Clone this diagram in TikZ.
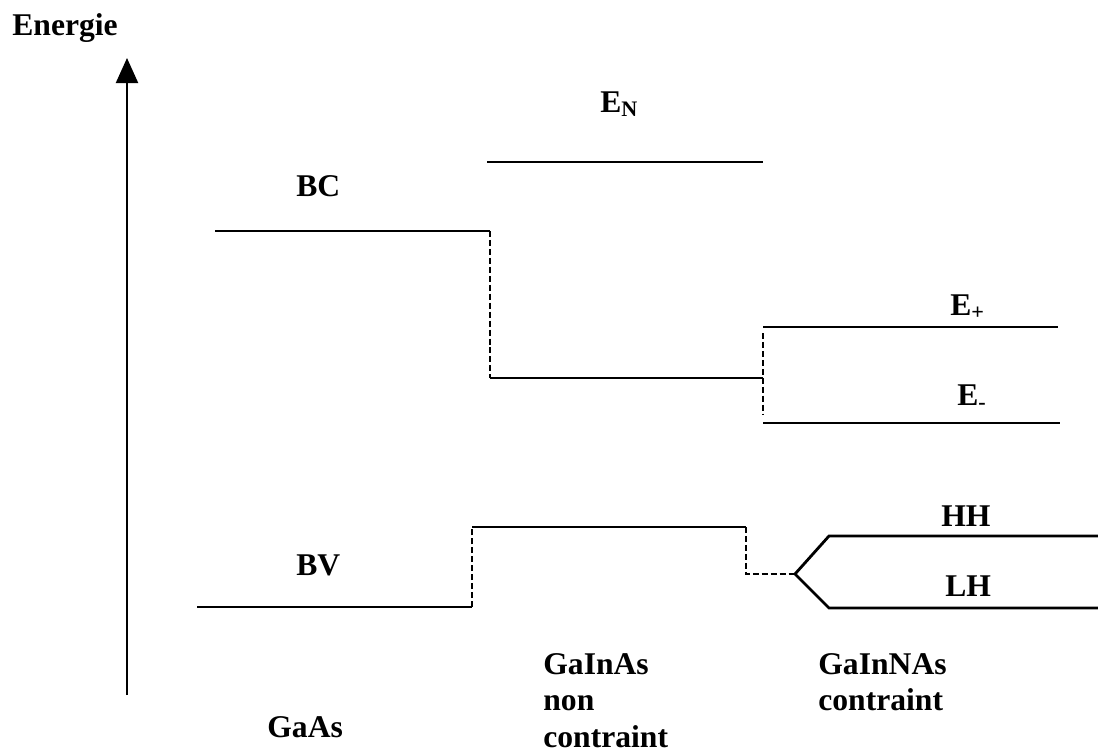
\documentclass[tikz,border=0pt]{standalone}
\usepackage{fontspec}
\setmainfont{Liberation Serif}
\usepackage{tikz}
\usetikzlibrary{arrows.meta}

\tikzset{
  level/.style={line width=1.6pt},
  jump/.style={line width=1.6pt, dash pattern=on 3.4pt off 1.7pt},
  lab/.style={anchor=base west, inner sep=0pt, font=\bfseries\fontsize{18}{21}\selectfont},
  mat/.style={anchor=north west, inner sep=0pt, align=left, font=\bfseries\fontsize{18}{20.8}\selectfont}
}

\begin{document}
\begin{tikzpicture}[x=0.02cm, y=-0.02cm]
  \useasboundingbox (0,0) rectangle (1098,754);
  % axe
  \coordinate (axbot) at (127,695);
  \coordinate (axtop) at (127,58);
  \draw[line width=1.2pt, -{Triangle[width=22*0.02cm, length=25*0.02cm]}] (axbot) -- (axtop);
  \node[lab] (energie) at (12,35) {Energie};

  % bande de conduction
  \coordinate (bc1) at (215,231);
  \coordinate (bc2) at (490,231);
  \coordinate (bc3) at (490,378);
  \coordinate (bc4) at (763,378);
  \coordinate (en1) at (487,162);
  \coordinate (en2) at (763,162);
  \coordinate (ep1) at (763,327);
  \coordinate (ep2) at (1058,327);
  \coordinate (em1) at (763,423);
  \coordinate (em2) at (1060,423);
  \coordinate (jp) at (763,333);
  \coordinate (jm) at (763,414);
  \draw[level] (bc1) -- (bc2);
  \draw[jump] (bc2) -- (bc3);
  \draw[level] (bc3) -- (bc4);
  \draw[level] (en1) -- (en2);
  \draw[level] (ep1) -- (ep2);
  \draw[level] (em1) -- (em2);
  \draw[jump] (jp) -- (jm);

  % bande de valence
  \coordinate (bv1) at (197,607);
  \coordinate (bv2) at (472,607);
  \coordinate (bv3) at (472,527);
  \coordinate (bv4) at (746,527);
  \coordinate (bv5) at (746,574);
  \coordinate (fork) at (795,574);
  \coordinate (hh1) at (829,536);
  \coordinate (hh2) at (1098,536);
  \coordinate (lh1) at (829,608);
  \coordinate (lh2) at (1098,608);
  \draw[level] (bv1) -- (bv2);
  \draw[jump] (bv2) -- (bv3);
  \draw[level] (bv3) -- (bv4);
  \draw[jump] (bv4) -- (bv5) -- (fork);
  \draw[level] (fork) -- (hh1) -- (hh2);
  \draw[level] (fork) -- (lh1) -- (lh2);

  % etiquettes
  \node[lab] (bc) at (296,196) {BC};
  \node[lab] (bv) at (296,575) {BV};
  \node[lab] (en) at (600,112) {E\textsubscript{N}};
  \node[lab] (ep) at (950,315) {E\textsubscript{+}};
  \node[lab] (em) at (957,405) {E\textsubscript{-}};
  \node[lab] (hh) at (941,526) {HH};
  \node[lab] (lh) at (945,596) {LH};

  % materiaux
  \node[lab] (gaas) at (267,737) {GaAs};
  \node[mat] (gainas) at (543,653) {GaInAs\\non\\contraint};
  \node[mat] (gainnas) at (818,653) {GaInNAs\\contraint};
\end{tikzpicture}
\end{document}
